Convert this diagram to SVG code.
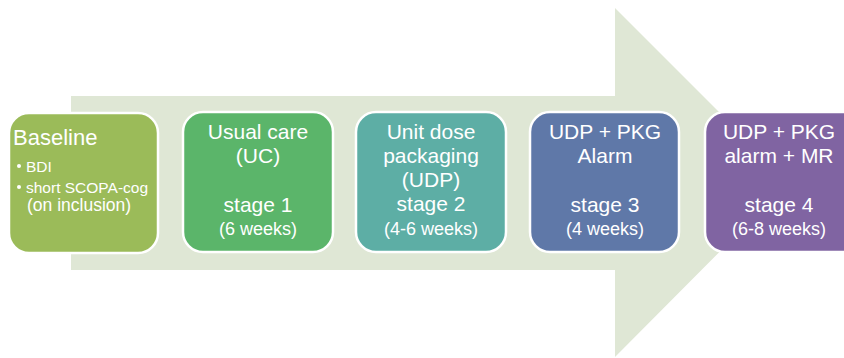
<svg xmlns="http://www.w3.org/2000/svg" width="844" height="358" viewBox="0 0 844 358">
  <style>
    .box { stroke: #ffffff; stroke-width: 2.5; }
    .t { font-family: "Liberation Sans", Arial, sans-serif; fill: #ffffff; text-anchor: middle; }
    .big { font-size: 21px; }
    .small { font-size: 18px; }
    .lt { font-family: "Liberation Sans", Arial, sans-serif; fill: #ffffff; }
  </style>
  <rect width="844" height="358" fill="#ffffff"/>
  <!-- Background arrow -->
  <g id="arrow">
    <polygon points="71,96 615,96 615,8 789,182 615,357 615,270 71,270" fill="#dfe7d5"/>
  </g>
  <g id="baseline">
    <rect class="box" x="9" y="113" width="149" height="140" rx="20" fill="#9bbb59"/>
    <text class="lt" x="13" y="145" font-size="22">Baseline</text>
    <circle cx="19" cy="166" r="2" fill="#ffffff"/>
    <text class="lt" x="26" y="172" font-size="15.5">BDI</text>
    <circle cx="19" cy="187" r="2" fill="#ffffff"/>
    <text class="lt" x="26" y="193" font-size="15.5">short SCOPA-cog</text>
    <text class="lt" x="27" y="211" font-size="17.5">(on inclusion)</text>
  </g>
  <g id="stage1">
    <rect class="box" x="183" y="112" width="150" height="140" rx="20" fill="#5bb56a"/>
    <text class="t big" x="258" y="139">Usual care</text>
    <text class="t big" x="258" y="163">(UC)</text>
    <text class="t big" x="258" y="212">stage 1</text>
    <text class="t small" x="258" y="235">(6 weeks)</text>
  </g>
  <g id="stage2">
    <rect class="box" x="356" y="112" width="150" height="140" rx="20" fill="#5daea5"/>
    <text class="t big" x="431" y="139">Unit dose</text>
    <text class="t big" x="431" y="163">packaging</text>
    <text class="t big" x="431" y="187">(UDP)</text>
    <text class="t big" x="431" y="211">stage 2</text>
    <text class="t small" x="431" y="235">(4-6 weeks)</text>
  </g>
  <g id="stage3">
    <rect class="box" x="530" y="112" width="149" height="140" rx="20" fill="#5f78a8"/>
    <text class="t big" x="605" y="139">UDP + PKG</text>
    <text class="t big" x="605" y="163">Alarm</text>
    <text class="t big" x="605" y="212">stage 3</text>
    <text class="t small" x="605" y="235">(4 weeks)</text>
  </g>
  <g id="stage4">
    <rect class="box" x="705" y="112" width="160" height="140" rx="20" fill="#8064a2"/>
    <text class="t big" x="779" y="139">UDP + PKG</text>
    <text class="t big" x="779" y="163">alarm + MR</text>
    <text class="t big" x="779" y="212">stage 4</text>
    <text class="t small" x="779" y="235">(6-8 weeks)</text>
  </g>
</svg>
